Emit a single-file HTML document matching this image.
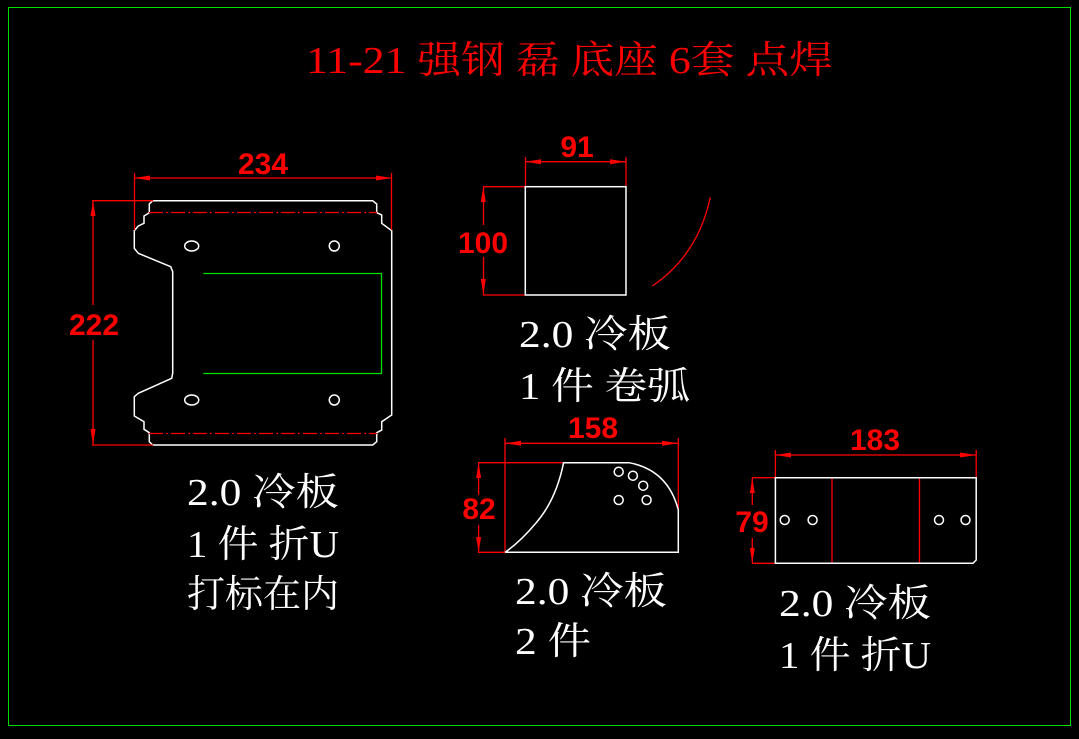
<!DOCTYPE html>
<html><head><meta charset="utf-8"><style>
html,body{margin:0;padding:0;background:#000;}
svg{display:block;}
.t{font-family:"Liberation Serif","Noto Serif CJK SC",serif;}
.w{fill:#fff;font-size:38px;}
.d{font-family:"Liberation Sans",sans-serif;fill:#f00;font-size:30px;font-weight:bold;text-anchor:middle;}
</style></head><body>
<svg width="1079" height="739" viewBox="0 0 1079 739" xmlns="http://www.w3.org/2000/svg">
<rect x="0" y="0" width="1079" height="739" fill="#000"/>
<rect x="8.5" y="7.5" width="1062" height="718" fill="none" stroke="#00e000" stroke-width="1"/>
<text class="t" x="306" y="73" fill="#f00" font-size="38" textLength="527" lengthAdjust="spacingAndGlyphs">11-21 强钢 磊 底座 6套 点焊</text>

<g fill="none" stroke="#fff" stroke-width="1.5">
<path d="M152.7,200.7 L372.7,200.7 L376.7,204 L376.7,212.7 L381.7,215 L381.7,223.3 L391.7,230.7 L391.7,415 L381.7,421.7 L381.7,430 L376.7,432.7 L376.7,441.7 L372.7,445 L152.7,445 L149.3,441.7 L149.3,432.7 L144,429.3 L144,421.7 L134.3,416 L134.3,396.7 L138.3,393.3 L171.7,378.3 L172.7,373.3 L172.7,271.7 L170.7,266.7 L138.3,253.3 L134.3,248.3 L134.3,230.7 L138.3,226 L144,223.3 L144,216 L149.3,212.7 L149.3,204 Z"/>
<ellipse cx="191.7" cy="246" rx="7" ry="5"/>
<circle cx="334.3" cy="246" r="5"/>
<ellipse cx="191.7" cy="400" rx="7" ry="5"/>
<circle cx="334.3" cy="400" r="5"/>
</g>
<path d="M203.3,273.5 L381.5,273.5 L381.5,373.5 L203.3,373.5" fill="none" stroke="#00e000" stroke-width="1.3"/>
<g stroke="#f00" stroke-width="1.3" fill="none">
<line x1="149" y1="212.5" x2="377" y2="212.5" stroke-dasharray="14,3,2,3"/>
<line x1="149" y1="433.5" x2="377" y2="433.5" stroke-dasharray="14,3,2,3"/>
<line x1="134" y1="178" x2="391.7" y2="178"/>
<line x1="134.5" y1="173" x2="134.5" y2="230"/>
<line x1="391.5" y1="173" x2="391.5" y2="230"/>
<line x1="93" y1="200.7" x2="93" y2="305"/>
<line x1="93" y1="340" x2="93" y2="445"/>
<line x1="92" y1="200.7" x2="153" y2="200.7"/>
<line x1="92" y1="445" x2="153" y2="445"/>
<line x1="525.3" y1="161.7" x2="626" y2="161.7"/>
<line x1="525.5" y1="157" x2="525.5" y2="186.7"/>
<line x1="626" y1="157" x2="626" y2="186.7"/>
<line x1="483.5" y1="186.7" x2="483.5" y2="225"/>
<line x1="483.5" y1="257" x2="483.5" y2="295"/>
<line x1="483" y1="186.7" x2="525.3" y2="186.7"/>
<line x1="483" y1="295" x2="525.3" y2="295"/>
<path d="M710.3,197.3 Q698,255 652.3,286"/>
<line x1="505" y1="443.3" x2="678.3" y2="443.3"/>
<line x1="505" y1="438" x2="505" y2="552.3"/>
<line x1="678.3" y1="438" x2="678.3" y2="510"/>
<line x1="478.6" y1="462.7" x2="478.6" y2="495"/>
<line x1="478.6" y1="525" x2="478.6" y2="552.3"/>
<line x1="478" y1="462.7" x2="563.6" y2="462.7"/>
<line x1="478" y1="552.3" x2="505" y2="552.3"/>
<line x1="775.4" y1="455" x2="976.2" y2="455"/>
<line x1="775.4" y1="450" x2="775.4" y2="477.7"/>
<line x1="976.2" y1="450" x2="976.2" y2="477.7"/>
<line x1="752.3" y1="477.7" x2="752.3" y2="505"/>
<line x1="752.3" y1="538" x2="752.3" y2="563.3"/>
<line x1="752" y1="477.7" x2="775.4" y2="477.7"/>
<line x1="752" y1="563.3" x2="775.4" y2="563.3"/>
<line x1="832" y1="477.7" x2="832" y2="563.3"/>
<line x1="919.5" y1="477.7" x2="919.5" y2="563.3"/>
</g>
<g fill="#f00">
<polygon points="134.3,178 150,175.5 150,180.5"/>
<polygon points="391.7,178 376,175.5 376,180.5"/>
<polygon points="93,200.7 90.5,216 95.5,216"/>
<polygon points="93,445 90.5,429 95.5,429"/>
<polygon points="525.3,161.7 541,159.2 541,164.2"/>
<polygon points="626,161.7 610,159.2 610,164.2"/>
<polygon points="483.3,186.7 480.8,202 485.8,202"/>
<polygon points="483.3,295 480.8,279 485.8,279"/>
<polygon points="505,443.3 521,440.8 521,445.8"/>
<polygon points="678.3,443.3 662,440.8 662,445.8"/>
<polygon points="478.6,462.7 476.1,478 481.1,478"/>
<polygon points="478.6,552.3 476.1,537 481.1,537"/>
<polygon points="775.4,455 791,452.5 791,457.5"/>
<polygon points="976.2,455 960,452.5 960,457.5"/>
<polygon points="752.3,477.7 749.8,493 754.8,493"/>
<polygon points="752.3,563.3 749.8,548 754.8,548"/>
</g>
<text class="d" x="263" y="174">234</text>
<text class="d" x="94" y="335">222</text>
<text class="d" x="577" y="157">91</text>
<text class="d" x="483" y="253">100</text>
<text class="d" x="593" y="438">158</text>
<text class="d" x="479" y="519">82</text>
<text class="d" x="875" y="450">183</text>
<text class="d" x="752" y="532">79</text>

<g fill="none" stroke="#fff" stroke-width="1.5">
<rect x="525.3" y="186.7" width="100.7" height="108.3"/>
<path d="M505,552.3 L678.3,552.3 L678.3,510 Q668,470 629,462.7 L563.6,462.7 Q556,500 536,523 Q520,542 505,552.3"/>
<circle cx="618.7" cy="471.7" r="4.5"/>
<circle cx="632.9" cy="475.7" r="4.5"/>
<circle cx="643.2" cy="485.7" r="4.5"/>
<circle cx="618.7" cy="500" r="4.5"/>
<circle cx="646.6" cy="500" r="4.5"/>
<path d="M775.4,477.7 L976.2,477.7 L976.2,560 L973,563.3 L775.4,563.3 Z"/>
<circle cx="784.7" cy="520" r="4.5"/>
<circle cx="812.6" cy="520" r="4.5"/>
<circle cx="939" cy="520" r="4.5"/>
<circle cx="965.5" cy="520" r="4.5"/>
</g>

<g class="t w">
<text x="187" y="505" textLength="152" lengthAdjust="spacingAndGlyphs">2.0 冷板</text>
<text x="187" y="557" textLength="152" lengthAdjust="spacingAndGlyphs">1 件 折U</text>
<text x="187" y="607" textLength="152" lengthAdjust="spacingAndGlyphs">打标在内</text>
<text x="519" y="347" textLength="152" lengthAdjust="spacingAndGlyphs">2.0 冷板</text>
<text x="519" y="399" textLength="171" lengthAdjust="spacingAndGlyphs">1 件 卷弧</text>
<text x="515" y="604" textLength="152" lengthAdjust="spacingAndGlyphs">2.0 冷板</text>
<text x="515" y="654" textLength="76" lengthAdjust="spacingAndGlyphs">2 件</text>
<text x="779" y="616" textLength="152" lengthAdjust="spacingAndGlyphs">2.0 冷板</text>
<text x="779" y="668" textLength="152" lengthAdjust="spacingAndGlyphs">1 件 折U</text>
</g>
</svg>
</body></html>
